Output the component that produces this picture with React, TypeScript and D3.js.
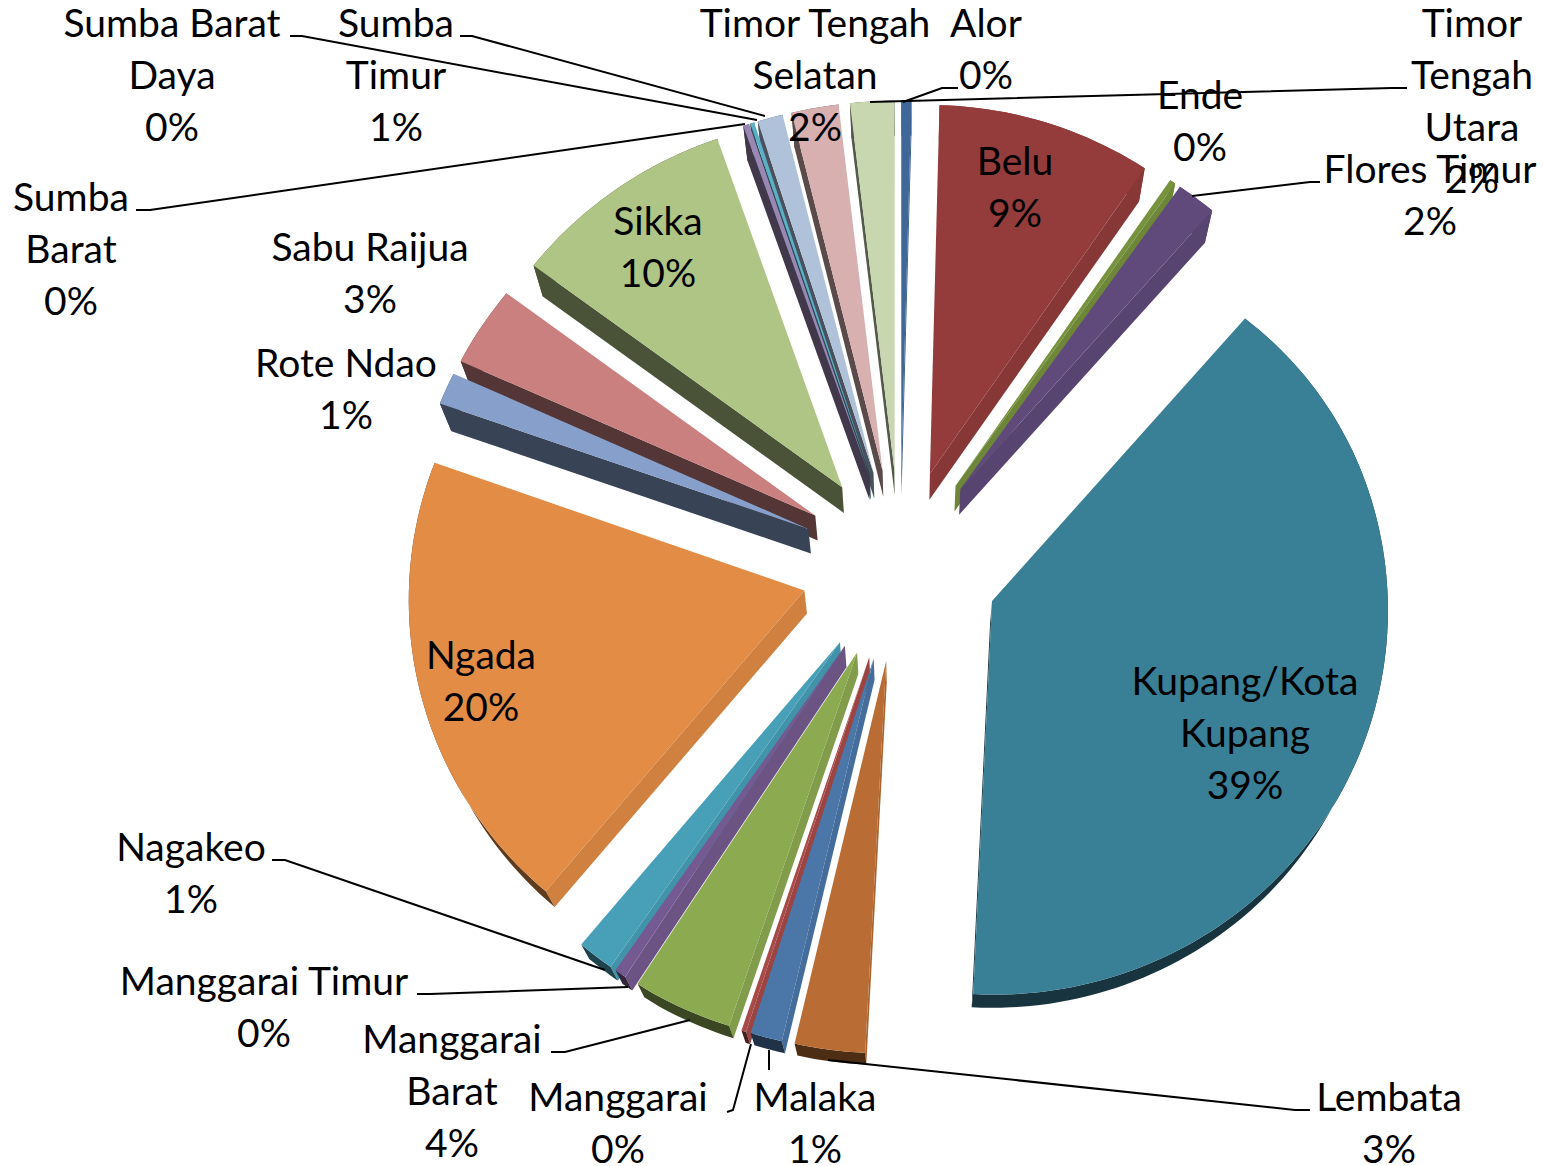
import { useEffect, useRef } from "react";
import * as d3 from "d3";

const WIDTH = 1543;
const HEIGHT = 1166;

const regions = [
  "Alor", "Belu", "Ende", "Flores Timur", "Kupang/Kota Kupang", "Lembata", "Malaka",
  "Manggarai", "Manggarai Barat", "Manggarai Timur", "Nagakeo", "Ngada", "Rote Ndao",
  "Sabu Raijua", "Sikka", "Sumba Barat", "Sumba Barat Daya", "Sumba Timur",
  "Timor Tengah Selatan", "Timor Tengah Utara",
];
const shares = [
  0.42, 8.98, 0.25, 1.66, 39.51, 2.81, 1.28, 0.19, 4.03, 0.47, 1.47, 19.36, 1.41, 3.52, 9.36,
  0.25, 0.17, 1.06, 1.97, 1.84,
];
const colors = [
  "#3f6797", "#943c3c", "#76923c", "#604a7b", "#397f96", "#b96c33", "#4a76a8", "#a84a48",
  "#8caa50", "#745a90", "#47a0b8", "#e28c46", "#86a0cb", "#cb8080", "#afc585", "#9a87b3",
  "#5bb0c8", "#b0c2da", "#d9b0b0", "#c9d7b1",
];

// label text per line, first line centre
const labels: [string[], number, number][] = [
  [["Alor", "0%"], 986, 24],
  [["Belu", "9%"], 1015, 162],
  [["Ende", "0%"], 1200, 96],
  [["Flores Timur", "2%"], 1430, 170],
  [["Kupang/Kota", "Kupang", "39%"], 1245, 682],
  [["Lembata", "3%"], 1389, 1098],
  [["Malaka", "1%"], 815, 1098],
  [["Manggarai", "0%"], 618, 1098],
  [["Manggarai", "Barat", "4%"], 452, 1040],
  [["Manggarai Timur", "0%"], 264, 982],
  [["Nagakeo", "1%"], 191, 848],
  [["Ngada", "20%"], 481, 656],
  [["Rote Ndao", "1%"], 346, 364],
  [["Sabu Raijua", "3%"], 370, 248],
  [["Sikka", "10%"], 658, 222],
  [["Sumba", "Barat", "0%"], 71, 198],
  [["Sumba Barat", "Daya", "0%"], 172, 24],
  [["Sumba", "Timur", "1%"], 396, 24],
  [["Timor Tengah", "Selatan", "2%"], 815, 24],
  [["Timor", "Tengah", "Utara", "2%"], 1472, 24],
];

const leaders: [number, number][][] = [
  [[290, 36], [302, 36], [757, 120]],
  [[460, 36], [472, 36], [765, 116]],
  [[136, 210], [150, 210], [745, 124]],
  [[870, 102], [1392, 88], [1407, 88]],
  [[903, 102], [942, 88], [958, 88]],
  [[1192, 196], [1310, 182], [1320, 182]],
  [[272, 860], [285, 860], [605, 970]],
  [[417, 994], [430, 994], [628, 987]],
  [[551, 1052], [565, 1052], [690, 1020]],
  [[727, 1112], [733, 1110], [751, 1044]],
  [[769, 1050], [769, 1070]],
  [[828, 1060], [1295, 1110], [1310, 1110]],
];

const cx = 900;
const cy = 565;
const radius = 395;
const explode = 99;
const depth = 0.0245;
const vanish: [number, number] = [910, 1533];

// perspective of the tilted plate: far side shorter and narrower than the near side
const squash = d3
  .scaleLinear()
  .domain([-490, -270, -95, 100, 430, 500])
  .range([0.94, 0.937, 0.968, 0.98, 0.995, 0.99]);
const project = (u: number, v: number): [number, number] => [
  cx + u * (1 + 0.00005 * v),
  cy + v * squash(v),
];
const extrude = ([x, y]: [number, number]): [number, number] => [
  x + depth * (vanish[0] - x),
  y + depth * (vanish[1] - y),
];

const App = () => {
  const svgRef = useRef<SVGSVGElement>(null);

  useEffect(() => {
    const svg = d3.select(svgRef.current);
    svg.selectAll("*").remove();

    const arcs = d3.pie<number>().sort(null).value((d) => d)(shares);
    const line = d3.line();

    const slices = arcs.map((a, i) => {
      const mid = (a.startAngle + a.endAngle) / 2;
      const ox = explode * Math.sin(mid);
      const oy = -explode * Math.cos(mid);
      const apex = project(ox, oy);
      const steps = Math.max(2, Math.ceil((a.endAngle - a.startAngle) * 40));
      const rim = d3.range(steps + 1).map((s) => {
        const t = a.startAngle + ((a.endAngle - a.startAngle) * s) / steps;
        return project(ox + radius * Math.sin(t), oy - radius * Math.cos(t));
      });
      return { i, a, mid, apex, rim, order: project(ox + 200 * Math.sin(mid), oy - 200 * Math.cos(mid))[1] };
    });

    const shade = (c: string, f: number) => {
      const col = d3.rgb(c);
      return d3.rgb(col.r * f, col.g * f, col.b * f).formatHex();
    };

    const g = svg.append("g");
    slices
      .slice()
      .sort((p, q) => p.order - q.order)
      .forEach(({ i, a, mid, apex, rim }) => {
        const first = rim[0];
        const last = rim[rim.length - 1];
        const drop = extrude(apex);
        // one side wall, drawn only when it faces the camera
        const wall = (p: [number, number], angle: number, sign: number) => {
          const nx = sign * Math.cos(angle);
          const ny = sign * Math.sin(angle);
          if (nx * (drop[0] - apex[0]) + ny * (drop[1] - apex[1]) <= 0) return;
          g.append("path")
            .attr("d", line([apex, p, extrude(p), drop]) + "Z")
            .attr("fill", shade(colors[i], nx > 0 ? 0.92 : 0.42));
        };
        wall(first, a.startAngle, -1);
        wall(last, a.endAngle, 1);
        const litRim = Math.cos(mid) > 0 && Math.sin(mid) > 0;
        g.append("path")
          .attr("d", line([...rim, ...rim.map(extrude).reverse()]) + "Z")
          .attr("fill", shade(colors[i], litRim ? 0.92 : 0.42));
        g.append("path")
          .attr("d", line([apex, ...rim]) + "Z")
          .attr("fill", colors[i]);
      });

    svg
      .append("g")
      .selectAll("path")
      .data(leaders)
      .join("path")
      .attr("d", (d) => line(d))
      .attr("fill", "none")
      .attr("stroke", "#000")
      .attr("stroke-width", 2);

    const text = svg
      .append("g")
      .attr("font-family", "Lato")
      .attr("font-size", 39)
      .attr("text-anchor", "middle")
      .attr("fill", "#000")
      .selectAll("text")
      .data(labels)
      .join("text");
    text
      .selectAll("tspan")
      .data((d) => d[0].map((s, n) => ({ s, x: d[1], y: d[2] + n * 52 + 13 })))
      .join("tspan")
      .attr("x", (d) => d.x)
      .attr("y", (d) => d.y)
      .text((d) => d.s);
  }, []);

  return (
    <svg
      ref={svgRef}
      width={WIDTH}
      height={HEIGHT}
      style={{ position: "absolute", left: 0, top: 0, background: "#fff" }}
      aria-label={regions.join(", ")}
    />
  );
};

export default App;
